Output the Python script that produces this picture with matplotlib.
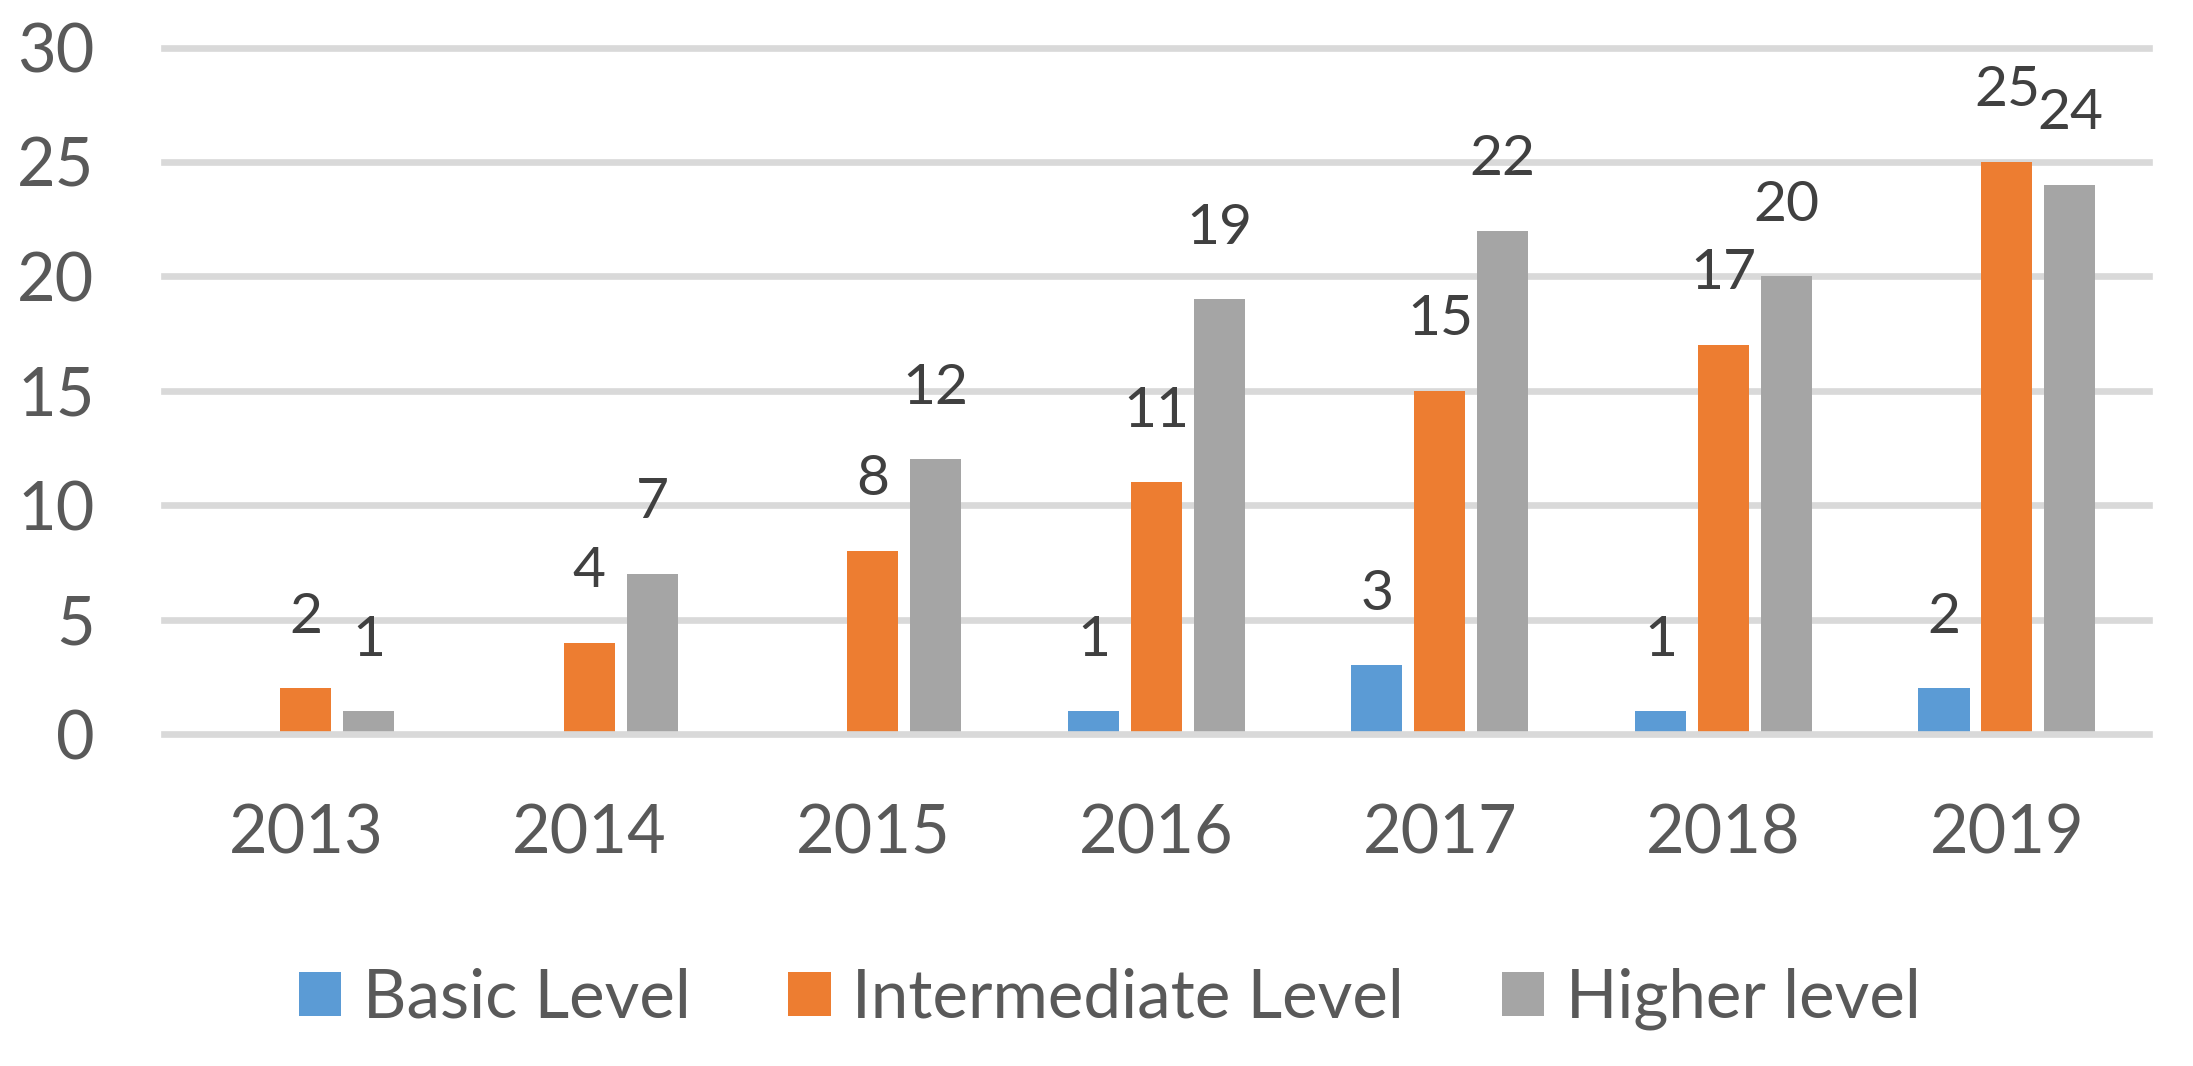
import matplotlib
matplotlib.use('Agg')
import matplotlib.pyplot as plt
import numpy as np

plt.rcParams['font.family'] = ['Lato', 'DejaVu Sans']

years = ['2013', '2014', '2015', '2016', '2017', '2018', '2019']
basic = [0, 0, 0, 1, 3, 1, 2]
intermediate = [2, 4, 8, 11, 15, 17, 25]
higher = [1, 7, 12, 19, 22, 20, 24]
series_names = ['Basic Level', 'Intermediate Level', 'Higher level']
y_ticks = [0, 5, 10, 15, 20, 25, 30]

colors = ['#5B9BD5', '#ED7D31', '#A5A5A5']
grid_color = '#D9D9D9'
tick_color = '#595959'
label_color = '#404040'

fig = plt.figure(figsize=(21.93, 10.66), dpi=100)
ax = fig.add_axes([0.0748, 0.3114, 0.905, 0.644])

x = np.arange(len(years))
width = 0.18
step = 0.222

# gridlines (the 0 line sits on top of the bars like in Excel)
for v in y_ticks:
    ax.axhline(v, color=grid_color, lw=4.8, zorder=1 if v else 3, clip_on=False)

for i, (vals, name) in enumerate(zip([basic, intermediate, higher], series_names)):
    pos = x + (i - 1) * step
    bars = ax.bar(pos, vals, width, color=colors[i], label=name, zorder=2)
    for b, v in zip(bars, vals):
        if v == 0:
            continue
        ax.annotate(str(v), (b.get_x() + b.get_width() / 2, v),
                    xytext=(0, 40), textcoords='offset points',
                    ha='center', va='baseline', fontsize=41, color=label_color)

ax.set_xlim(-0.5, len(years) - 0.5)
ax.set_ylim(0, 30)
ax.set_yticks(y_ticks)
ax.set_xticks(x)
ax.set_xticklabels(years)
ax.tick_params(axis='y', length=0, pad=50, labelsize=48, labelcolor=tick_color)
ax.tick_params(axis='x', length=0, pad=50, labelsize=48, labelcolor=tick_color)
for s in ax.spines.values():
    s.set_visible(False)

fig.legend(loc='center', bbox_to_anchor=(0.506, 0.063), ncol=3, frameon=False,
           fontsize=48.5, handlelength=0.63, handleheight=0.63,
           handletextpad=0.32, columnspacing=1.45, labelcolor=tick_color)

fig.savefig('out.png', dpi=100)
